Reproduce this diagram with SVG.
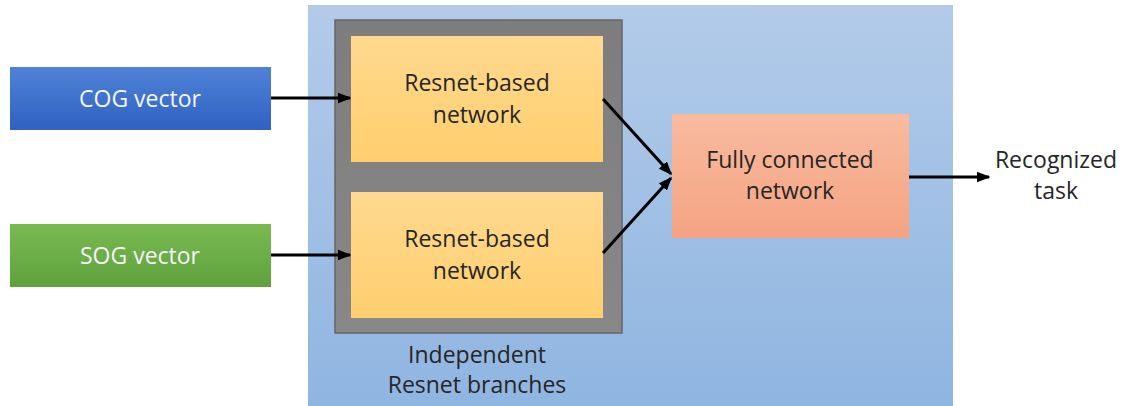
<svg xmlns="http://www.w3.org/2000/svg" width="1128" height="406" viewBox="0 0 1128 406">
<defs>
<linearGradient id="gBg" x1="0" y1="0" x2="0" y2="1"><stop offset="0" stop-color="#b3cbe9"/><stop offset="1" stop-color="#8fb5e1"/></linearGradient>
<linearGradient id="gBlue" x1="0" y1="0" x2="0" y2="1"><stop offset="0" stop-color="#4f82d6"/><stop offset="1" stop-color="#2f62c2"/></linearGradient>
<linearGradient id="gGreen" x1="0" y1="0" x2="0" y2="1"><stop offset="0" stop-color="#7ab952"/><stop offset="1" stop-color="#5ea23c"/></linearGradient>
<linearGradient id="gOrange" x1="0" y1="0" x2="0" y2="1"><stop offset="0" stop-color="#ffd98f"/><stop offset="1" stop-color="#ffcf6e"/></linearGradient>
<linearGradient id="gSalmon" x1="0" y1="0" x2="0" y2="1"><stop offset="0" stop-color="#f9bb9e"/><stop offset="1" stop-color="#f4a383"/></linearGradient>
<linearGradient id="gGray" x1="0" y1="0" x2="0" y2="1"><stop offset="0" stop-color="#7d7d7d"/><stop offset="1" stop-color="#888888"/></linearGradient>
<marker id="arr" viewBox="0 0 10 10" refX="9" refY="5" markerWidth="4.5" markerHeight="4.5" orient="auto" markerUnits="strokeWidth"><path d="M0,1 L10,5 L0,9 z" fill="#000"/></marker>
</defs>
<style>
text{font-family:"Open Sans","Liberation Sans",sans-serif;font-size:23px;text-anchor:middle;fill:#262626}
.w{fill:#f4f6fb}
.c{stroke:#000;stroke-width:3;fill:none;marker-end:url(#arr)}
</style>
<rect x="0" y="0" width="1128" height="406" fill="#ffffff"/>
<g id="container">
<rect x="308" y="5" width="645" height="401" fill="url(#gBg)"/>
<text x="477" y="363">Independent</text>
<text x="477" y="393">Resnet branches</text>
</g>
<g id="branches">
<rect x="335" y="20" width="287" height="313" fill="url(#gGray)" stroke="#666" stroke-width="1.5"/>
</g>
<g id="resnet1">
<rect x="351" y="36" width="252" height="126" fill="url(#gOrange)"/>
<text x="477" y="91">Resnet-based</text>
<text x="477" y="123">network</text>
</g>
<g id="resnet2">
<rect x="351" y="192" width="252" height="126" fill="url(#gOrange)"/>
<text x="477" y="247">Resnet-based</text>
<text x="477" y="279">network</text>
</g>
<g id="cog">
<rect x="10" y="67" width="261" height="63" fill="url(#gBlue)"/>
<text class="w" x="140" y="107">COG vector</text>
</g>
<g id="sog">
<rect x="10" y="224" width="261" height="63" fill="url(#gGreen)"/>
<text class="w" x="140" y="264">SOG vector</text>
</g>
<g id="fc">
<rect x="672" y="114" width="237" height="124" fill="url(#gSalmon)"/>
<text x="790" y="168">Fully connected</text>
<text x="790" y="199">network</text>
</g>
<g id="output">
<text x="1056" y="168">Recognized</text>
<text x="1056" y="199">task</text>
</g>
<g id="connectors">
<line class="c" x1="271" y1="98" x2="350" y2="98"/>
<line class="c" x1="271" y1="255" x2="350" y2="255"/>
<line class="c" x1="603" y1="99" x2="671" y2="174"/>
<line class="c" x1="603" y1="253" x2="671" y2="178"/>
<line class="c" x1="909" y1="177" x2="989" y2="177"/>
</g>
</svg>
